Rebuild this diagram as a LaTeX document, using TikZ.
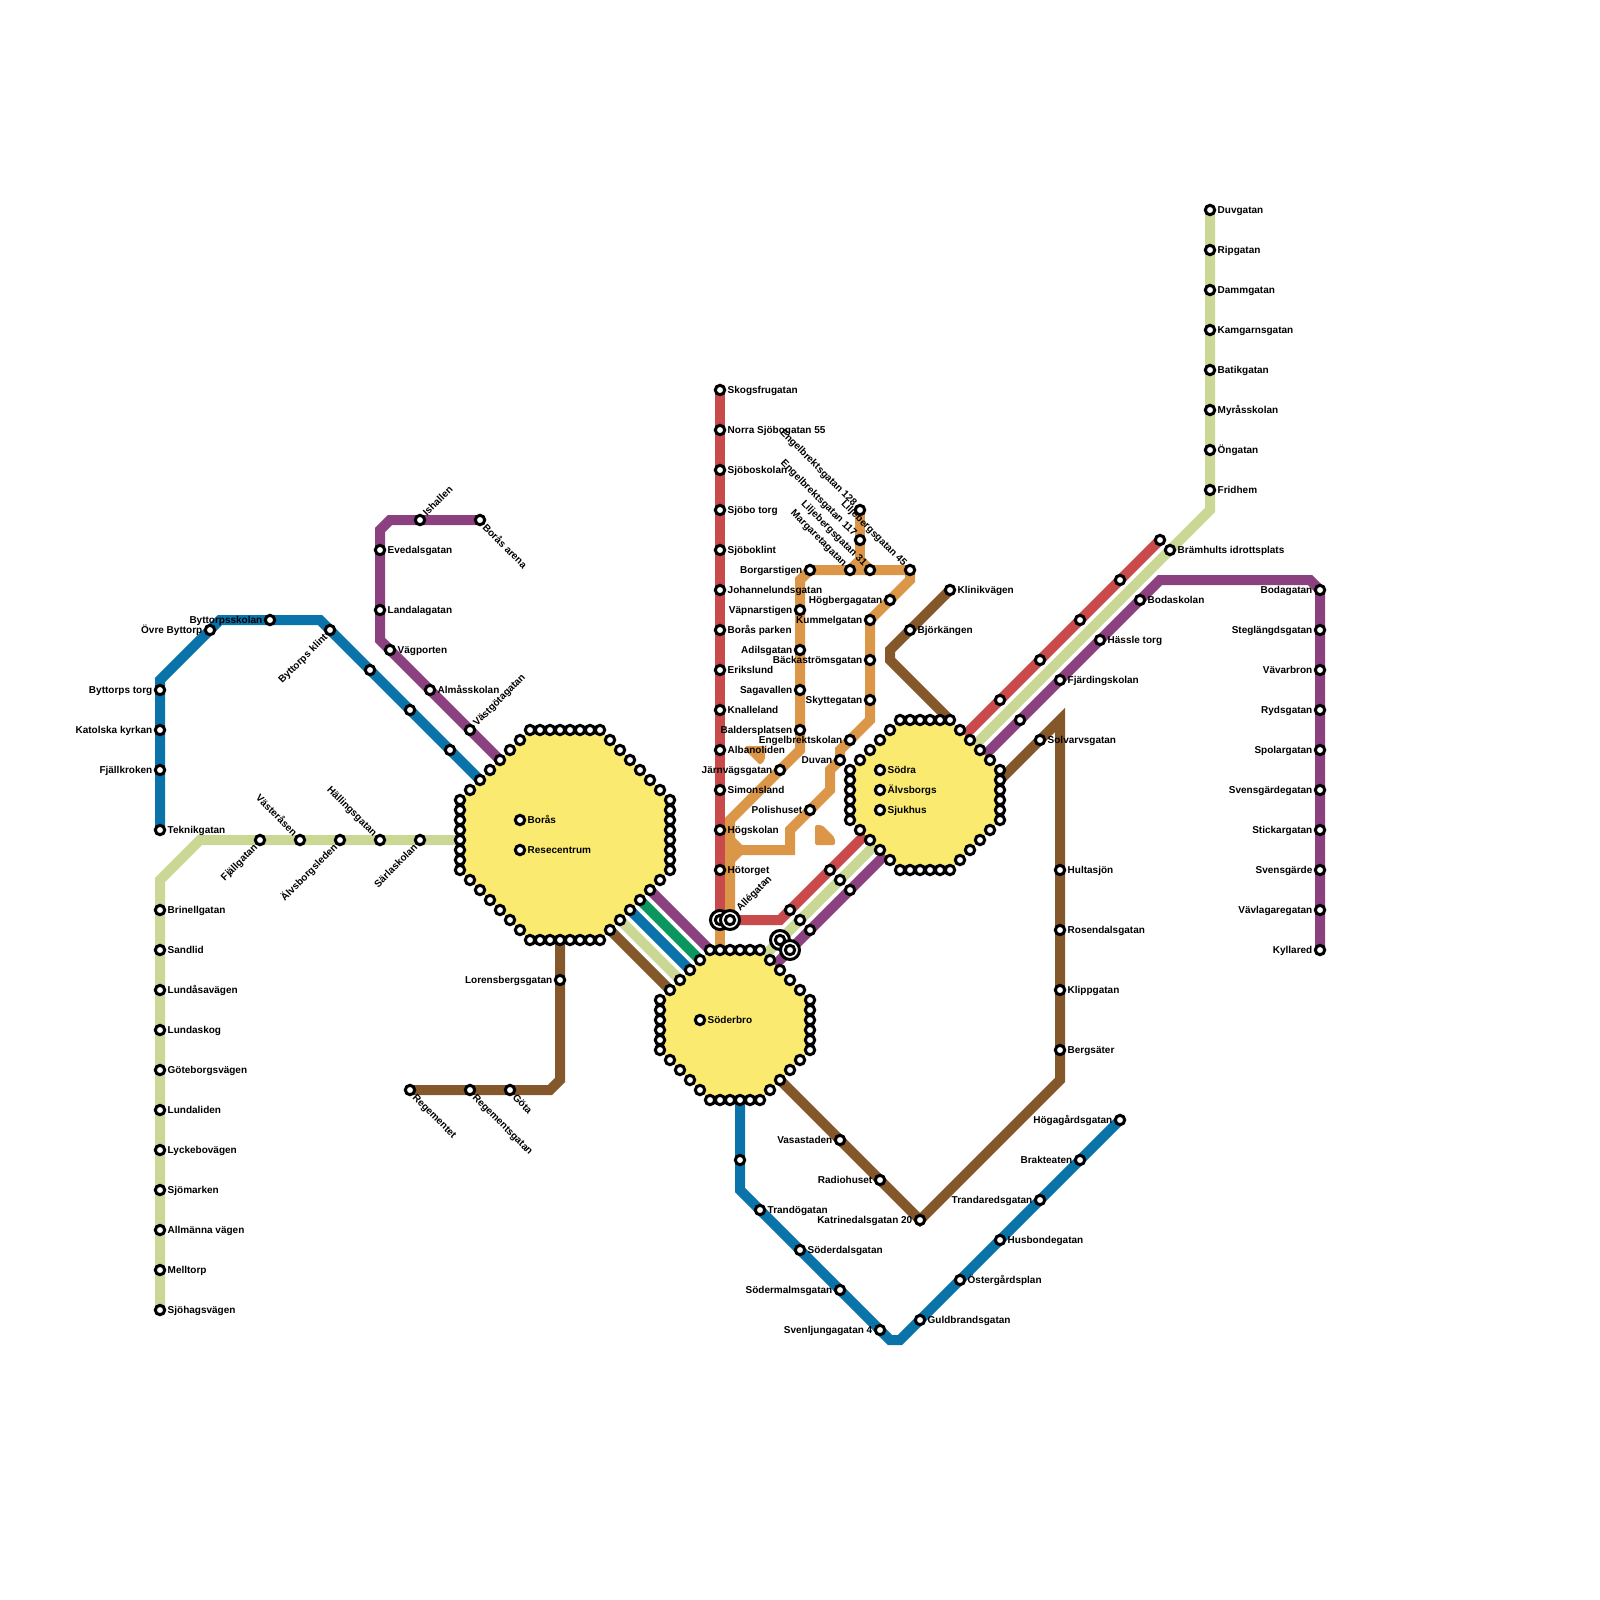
\documentclass[tikz,border=0pt]{standalone}
\usepackage{fontspec}
\setmainfont{Liberation Sans}
\usetikzlibrary{backgrounds}
\definecolor{linered}{RGB}{201,74,74}
\definecolor{lineorange}{RGB}{219,150,72}
\definecolor{linebrown}{RGB}{133,88,44}
\definecolor{linepurple}{RGB}{139,64,128}
\definecolor{lineblue}{RGB}{10,115,169}
\definecolor{linegreen}{RGB}{11,150,96}
\definecolor{linepale}{RGB}{203,215,149}
\definecolor{hubyellow}{RGB}{250,235,112}
\tikzset{
  stn/.style={circle, draw=black, fill=white, line width=3pt, minimum size=9.4pt, inner sep=0pt},
  ringstn/.style={circle, draw=black, fill=white, line width=3pt, minimum size=19pt, inner sep=0pt},
  metro/.style={line width=10pt, line join=miter},
  hub/.style={fill=hubyellow},
  every label/.style={font=\fontsize{10}{10}\selectfont\bfseries, inner sep=0pt, text height=8.5pt, text depth=1.5pt},
  ne/.style={rotate=45, anchor=west},
  sw/.style={rotate=45, anchor=east},
  se/.style={rotate=-45, anchor=west},
  nw/.style={rotate=-45, anchor=east}
}
\begin{document}
\begin{tikzpicture}[x=10pt, y=-10pt, label distance=1.3pt]
    \useasboundingbox (0,0) rectangle (160,160);
    % red line
    \node[stn, label={right:Skogsfrugatan}] (skogsfrugatan) at (72,39) {};
    \node[stn, label={right:Norra Sjöbogatan 55}] (norrasjobo) at (72,43) {};
    \node[stn, label={right:Sjöboskolan}] (sjoboskolan) at (72,47) {};
    \node[stn, label={right:Sjöbo torg}] (sjobotorg) at (72,51) {};
    \node[stn, label={right:Sjöboklint}] (sjoboklint) at (72,55) {};
    \node[stn, label={right:Johannelundsgatan}] (johannelund) at (72,59) {};
    \node[stn, label={right:Borås parken}] (borasparken) at (72,63) {};
    \node[stn, label={right:Erikslund}] (erikslund) at (72,67) {};
    \node[stn, label={right:Knalleland}] (knalleland) at (72,71) {};
    \node[stn, label={right:Albanoliden}] (albanoliden) at (72,75) {};
    \node[stn, label={right:Simonsland}] (simonsland) at (72,79) {};
    \node[stn, label={right:Högskolan}] (hogskolan) at (72,83) {};
    \node[stn, label={right:Hötorget}] (hotorget) at (72,87) {};
    \node[ringstn] (ringred) at (72,92) {};
    \node[stn] (redswitch) at (72,92) {};
    \node[stn] (redmid) at (79,91) {};
    \node[stn] (redhub) at (83,87) {};
    \node[stn] (redne a) at (100,70) {};
    \node[stn] (redne b) at (104,66) {};
    \node[stn] (redne c) at (108,62) {};
    \node[stn] (redne d) at (112,58) {};
    \node[stn] (redne e) at (116,54) {};
    % orange line
    \node[ringstn, label={[ne, label distance=3pt]45:Allégatan}] (ringorange) at (73,92) {};
    \node[stn] (allegatan) at (73,92) {};
    \node[stn, label={left:Järnvägsgatan}] (jarnvagsgatan) at (78,77) {};
    \node[stn, label={left:Baldersplatsen}] (baldersplatsen) at (80,73) {};
    \node[stn, label={left:Sagavallen}] (sagavallen) at (80,69) {};
    \node[stn, label={left:Adilsgatan}] (adilsgatan) at (80,65) {};
    \node[stn, label={left:Väpnarstigen}] (vapnarstigen) at (80,61) {};
    \node[stn, label={left:Borgarstigen}] (borgarstigen) at (81,57) {};
    \node[stn, label={[nw]135:Margaretagatan}] (margaretagatan) at (85,57) {};
    \node[stn, label={[nw]135:Liljebergsgatan 31}] (lilje31) at (87,57) {};
    \node[stn, label={[nw]135:Liljebergsgatan 45}] (lilje45) at (91,57) {};
    \node[stn, label={[nw]135:Engelbrektsgatan 117}] (engel117) at (86,54) {};
    \node[stn, label={[nw]135:Engelbrektsgatan 128}] (engel128) at (86,51) {};
    \node[stn, label={left:Högbergagatan}] (hogbergagatan) at (89,60) {};
    \node[stn, label={left:Kummelgatan}] (kummelgatan) at (87,62) {};
    \node[stn, label={left:Bäckaströmsgatan}] (backastrom) at (87,66) {};
    \node[stn, label={left:Skyttegatan}] (skyttegatan) at (87,70) {};
    \node[stn, label={left:Engelbrektskolan}] (engelskolan) at (85,74) {};
    \node[stn, label={left:Duvan}] (duvan) at (84,76) {};
    \node[stn, label={left:Polishuset}] (polishuset) at (81,81) {};
    % blue line, north-west and south-east
    \node[stn, label={right:Teknikgatan}] (teknikgatan) at (16,83) {};
    \node[stn, label={left:Fjällkroken}] (fjallkroken) at (16,77) {};
    \node[stn, label={left:Katolska kyrkan}] (katolska) at (16,73) {};
    \node[stn, label={left:Byttorps torg}] (byttorpstorg) at (16,69) {};
    \node[stn, label={left:Övre Byttorp}] (ovrebyttorp) at (21,63) {};
    \node[stn, label={left:Byttorpsskolan}] (byttorpsskolan) at (27,62) {};
    \node[stn, label={[sw]225:Byttorps klint}] (byttorpsklint) at (33,63) {};
    \node[stn] (bluenw a) at (37,67) {};
    \node[stn] (bluenw b) at (41,71) {};
    \node[stn] (bluenw c) at (45,75) {};
    \node[stn] (bluese a) at (74,116) {};
    \node[stn, label={right:Trandögatan}] (trandogatan) at (76,121) {};
    \node[stn, label={right:Söderdalsgatan}] (soderdalsgatan) at (80,125) {};
    \node[stn, label={left:Södermalmsgatan}] (sodermalm) at (84,129) {};
    \node[stn, label={left:Svenljungagatan 4}] (svenljunga) at (88,133) {};
    \node[stn, label={right:Guldbrandsgatan}] (guldbrand) at (92,132) {};
    \node[stn, label={right:Östergårdsplan}] (ostergard) at (96,128) {};
    \node[stn, label={right:Husbondegatan}] (husbonde) at (100,124) {};
    \node[stn, label={left:Trandaredsgatan}] (trandared) at (104,120) {};
    \node[stn, label={left:Brakteaten}] (brakteaten) at (108,116) {};
    \node[stn, label={left:Högagårdsgatan}] (hogagard) at (112,112) {};
    % pale line
    \node[stn, label={right:Sjöhagsvägen}] (sjohagsvagen) at (16,131) {};
    \node[stn, label={right:Melltorp}] (melltorp) at (16,127) {};
    \node[stn, label={right:Allmänna vägen}] (allmanna) at (16,123) {};
    \node[stn, label={right:Sjömarken}] (sjomarken) at (16,119) {};
    \node[stn, label={right:Lyckebovägen}] (lyckebo) at (16,115) {};
    \node[stn, label={right:Lundaliden}] (lundaliden) at (16,111) {};
    \node[stn, label={right:Göteborgsvägen}] (goteborgs) at (16,107) {};
    \node[stn, label={right:Lundaskog}] (lundaskog) at (16,103) {};
    \node[stn, label={right:Lundåsavägen}] (lundasa) at (16,99) {};
    \node[stn, label={right:Sandlid}] (sandlid) at (16,95) {};
    \node[stn, label={right:Brinellgatan}] (brinell) at (16,91) {};
    \node[stn, label={[sw]225:Fjällgatan}] (fjallgatan) at (26,84) {};
    \node[stn, label={[nw]135:Västeråsen}] (vasterasen) at (30,84) {};
    \node[stn, label={[sw]225:Älvsborgsleden}] (alvsborgsleden) at (34,84) {};
    \node[stn, label={[nw]135:Hällingsgatan}] (hallingsgatan) at (38,84) {};
    \node[stn, label={[sw]225:Särlaskolan}] (sarlaskolan) at (42,84) {};
    \node[stn] (palemid a) at (84,88) {};
    \node[stn] (palemid b) at (80,92) {};
    \node[ringstn] (ringpale) at (78,94) {};
    \node[stn] (paleswitch) at (78,94) {};
    \node[stn, label={right:Brämhults idrottsplats}] (bramhult) at (117,55) {};
    \node[stn, label={right:Fridhem}] (fridhem) at (121,49) {};
    \node[stn, label={right:Öngatan}] (ongatan) at (121,45) {};
    \node[stn, label={right:Myråsskolan}] (myrasskolan) at (121,41) {};
    \node[stn, label={right:Batikgatan}] (batikgatan) at (121,37) {};
    \node[stn, label={right:Kamgarnsgatan}] (kamgarn) at (121,33) {};
    \node[stn, label={right:Dammgatan}] (dammgatan) at (121,29) {};
    \node[stn, label={right:Ripgatan}] (ripgatan) at (121,25) {};
    \node[stn, label={right:Duvgatan}] (duvgatan) at (121,21) {};
    % purple line
    \node[stn, label={[se]-45:Borås arena}] (borasarena) at (48,52) {};
    \node[stn, label={[ne]45:Ishallen}] (ishallen) at (42,52) {};
    \node[stn, label={right:Evedalsgatan}] (evedalsgatan) at (38,55) {};
    \node[stn, label={right:Landalagatan}] (landalagatan) at (38,61) {};
    \node[stn, label={right:Vägporten}] (vagporten) at (39,65) {};
    \node[stn, label={right:Almåsskolan}] (almasskolan) at (43,69) {};
    \node[stn, label={[ne]45:Västgötagatan}] (vastgotagatan) at (47,73) {};
    \node[stn] (purplemid a) at (85,89) {};
    \node[stn] (purplemid b) at (81,93) {};
    \node[ringstn] (ringpurple) at (79,95) {};
    \node[stn] (purpleswitch) at (79,95) {};
    \node[stn] (purplene a) at (102,72) {};
    \node[stn, label={right:Fjärdingskolan}] (fjardingskolan) at (106,68) {};
    \node[stn, label={right:Hässle torg}] (hassletorg) at (110,64) {};
    \node[stn, label={right:Bodaskolan}] (bodaskolan) at (114,60) {};
    \node[stn, label={left:Bodagatan}] (bodagatan) at (132,59) {};
    \node[stn, label={left:Steglängdsgatan}] (steglangd) at (132,63) {};
    \node[stn, label={left:Vävarbron}] (vavarbron) at (132,67) {};
    \node[stn, label={left:Rydsgatan}] (rydsgatan) at (132,71) {};
    \node[stn, label={left:Spolargatan}] (spolargatan) at (132,75) {};
    \node[stn, label={left:Svensgärdegatan}] (svensgardegatan) at (132,79) {};
    \node[stn, label={left:Stickargatan}] (stickargatan) at (132,83) {};
    \node[stn, label={left:Svensgärde}] (svensgarde) at (132,87) {};
    \node[stn, label={left:Vävlagaregatan}] (vavlagare) at (132,91) {};
    \node[stn, label={left:Kyllared}] (kyllared) at (132,95) {};
    % brown line
    \node[stn, label={right:Klinikvägen}] (klinikvagen) at (95,59) {};
    \node[stn, label={right:Björkängen}] (bjorkangen) at (91,63) {};
    \node[stn, label={right:Solvarvsgatan}] (solvarvsgatan) at (104,74) {};
    \node[stn, label={right:Hultasjön}] (hultasjon) at (106,87) {};
    \node[stn, label={right:Rosendalsgatan}] (rosendalsgatan) at (106,93) {};
    \node[stn, label={right:Klippgatan}] (klippgatan) at (106,99) {};
    \node[stn, label={right:Bergsäter}] (bergsater) at (106,105) {};
    \node[stn, label={left:Katrinedalsgatan 20}] (katrinedal) at (92,122) {};
    \node[stn, label={left:Radiohuset}] (radiohuset) at (88,118) {};
    \node[stn, label={left:Vasastaden}] (vasastaden) at (84,114) {};
    \node[stn, label={left:Lorensbergsgatan}] (lorensberg) at (56,98) {};
    \node[stn, label={[se]-45:Göta}] (gota) at (51,109) {};
    \node[stn, label={[se]-45:Regementsgatan}] (regementsgatan) at (47,109) {};
    \node[stn, label={[se]-45:Regementet}] (regementet) at (41,109) {};
    % hub stops
    \foreach \x in {53,...,60} {
      \node[stn] (borasn\x) at (\x,73) {};
      \node[stn] (borass\x) at (\x,94) {};
    }
    \foreach \y in {80,...,87} {
      \node[stn] (borasw\y) at (46,\y) {};
      \node[stn] (borase\y) at (67,\y) {};
    }
    \foreach \i in {1,...,6} {
      \node[stn] (borasnw\i) at (46+\i,80-\i) {};
      \node[stn] (borasne\i) at (67-\i,80-\i) {};
      \node[stn] (borassw\i) at (46+\i,87+\i) {};
      \node[stn] (borasse\i) at (67-\i,87+\i) {};
    }
    \foreach \x in {71,...,76} {
      \node[stn] (sodern\x) at (\x,95) {};
      \node[stn] (soders\x) at (\x,110) {};
    }
    \foreach \y in {100,...,105} {
      \node[stn] (soderw\y) at (66,\y) {};
      \node[stn] (sodere\y) at (81,\y) {};
    }
    \foreach \i in {1,...,4} {
      \node[stn] (sodernw\i) at (66+\i,100-\i) {};
      \node[stn] (soderne\i) at (81-\i,100-\i) {};
      \node[stn] (sodersw\i) at (66+\i,105+\i) {};
      \node[stn] (soderse\i) at (81-\i,105+\i) {};
    }
    \foreach \x in {90,...,95} {
      \node[stn] (sodran\x) at (\x,72) {};
      \node[stn] (sodras\x) at (\x,87) {};
    }
    \foreach \y in {77,...,82} {
      \node[stn] (sodraw\y) at (85,\y) {};
      \node[stn] (sodrae\y) at (100,\y) {};
    }
    \foreach \i in {1,...,4} {
      \node[stn] (sodranw\i) at (85+\i,77-\i) {};
      \node[stn] (sodrane\i) at (100-\i,77-\i) {};
      \node[stn] (sodrasw\i) at (85+\i,82+\i) {};
      \node[stn] (sodrase\i) at (100-\i,82+\i) {};
    }
    % hub names
    \node[stn, label={right:Borås}] (boras) at (52,82) {};
    \node[stn, label={right:Resecentrum}] (resecentrum) at (52,85) {};
    \node[stn, label={right:Söderbro}] (soderbro) at (70,102) {};
    \node[stn, label={right:Södra}] (sodra) at (88,77) {};
    \node[stn, label={right:Älvsborgs}] (alvsborgs) at (88,79) {};
    \node[stn, label={right:Sjukhus}] (sjukhus) at (88,81) {};
    % bends and free ends
    \coordinate (redbend) at (78,92);
    \coordinate (redsw) at (86.5,83.5);
    \coordinate (redne) at (96.5,73.5);
    \coordinate (orhub) at (72,95);
    \coordinate (ortop) at (73,82);
    \coordinate (orleft) at (80,75);
    \coordinate (orcorner) at (81,57);
    \coordinate (orcornerb) at (80,58);
    \coordinate (orright) at (91,58);
    \coordinate (orlowa) at (87,72);
    \coordinate (orlowb) at (84,75);
    \coordinate (orlowc) at (84,76);
    \coordinate (orlowd) at (83,77);
    \coordinate (orlowe) at (83,79);
    \coordinate (orlowf) at (79,83);
    \coordinate (orlowg) at (79,85);
    \coordinate (orlowh) at (74,85);
    \coordinate (orlowi) at (73,84);
    \coordinate (orlowj) at (73,86);
    \coordinate (orstub) at (86,56);
    \coordinate (blueleft) at (16,68);
    \coordinate (bluetop) at (22,62);
    \coordinate (bluetopb) at (32,62);
    \coordinate (bluedown) at (74,119);
    \coordinate (bluebota) at (89,134);
    \coordinate (bluebotb) at (90,134);
    \coordinate (paleleft) at (16,88);
    \coordinate (paleup) at (20,84);
    \coordinate (palesw) at (87.5,84.5);
    \coordinate (palene) at (97.5,74.5);
    \coordinate (palebend) at (121,51);
    \coordinate (palehub) at (76.5,95.5);
    \coordinate (purpa) at (39,52);
    \coordinate (purpb) at (38,53);
    \coordinate (purpc) at (38,64);
    \coordinate (purpsw) at (88.5,85.5);
    \coordinate (purpne) at (98.5,75.5);
    \coordinate (purphub) at (77.5,96.5);
    \coordinate (purpd) at (116,58);
    \coordinate (purpe) at (131,58);
    \coordinate (brna) at (89,65);
    \coordinate (brnb) at (89,66);
    \coordinate (brnc) at (106,72);
    \coordinate (brnd) at (106,108);
    \coordinate (brne) at (56,108);
    \coordinate (brnf) at (55,109);
    \begin{scope}[on background layer]
      \draw[metro, linegreen] (borasse3.center) -- (sodernw4.center);
      \draw[metro, linepurple] (borasse2.center) -- (sodern71.center);
      \draw[metro, lineblue] (borasse4.center) -- (sodernw3.center);
      \draw[metro, linepale] (borasse5.center) -- (sodernw2.center);
      \draw[metro, linebrown] (borasse6.center) -- (sodernw1.center);
      \draw[metro, linered] (skogsfrugatan.center) -- (redswitch.center);
      \draw[metro, linered] (ringorange.center) -- (redbend) -- (redsw);
      \draw[metro, linered] (redne) -- (redne e.center);
      \draw[metro, lineorange] (redswitch.center) -- (orhub);
      \draw[metro, lineorange] (allegatan.center) -- (ortop) -- (orleft) -- (orcornerb) -- (orcorner) -- (lilje45.center) -- (orright) -- (kummelgatan.center) -- (orlowa) -- (orlowb) -- (orlowc) -- (orlowd) -- (orlowe) -- (orlowf) -- (orlowg) -- (orlowh) -- (orlowj);
      \draw[metro, lineorange] (orlowi) -- (orlowh);
      \draw[metro, lineorange] (margaretagatan.center) -- (orstub) -- (lilje31.center);
      \draw[metro, lineorange] (engel128.center) -- (orstub);
      \draw[metro, lineblue] (teknikgatan.center) -- (blueleft) -- (bluetop) -- (bluetopb) -- (borasnw2.center);
      \draw[metro, lineblue] (soders74.center) -- (bluedown) -- (bluebota) -- (bluebotb) -- (hogagard.center);
      \draw[metro, linepale] (sjohagsvagen.center) -- (paleleft) -- (paleup) -- (borasw84.center);
      \draw[metro, linepale] (palesw) -- (palehub);
      \draw[metro, linepale] (palene) -- (palebend) -- (duvgatan.center);
      \draw[metro, linepurple] (borasarena.center) -- (purpa) -- (purpb) -- (purpc) -- (borasnw4.center);
      \draw[metro, linepurple] (purpsw) -- (purphub);
      \draw[metro, linepurple] (purpne) -- (purpd) -- (purpe) -- (bodagatan.center) -- (kyllared.center);
      \draw[metro, linebrown] (klinikvagen.center) -- (brna) -- (brnb) -- (sodran95.center);
      \draw[metro, linebrown] (soderse3.center) -- (katrinedal.center) -- (brnd) -- (brnc) -- (sodrae78.center);
      \draw[metro, linebrown] (borass56.center) -- (brne) -- (brnf) -- (regementet.center);
      % stray bits of the orange line
      \fill[lineorange, rounded corners=2pt] (74.5,74.6) -- (76.5,74.6) -- (76.5,76) -- (76,76.5) -- (74.5,75) -- cycle;
      \fill[lineorange, rounded corners=2pt] (81.5,82.5) -- (82.2,82.5) -- (83.5,83.8) -- (83.5,84.5) -- (81.5,84.5) -- cycle;
      % hubs
      \fill[hub] (53,73) -- (60,73) -- (67,80) -- (67,87) -- (60,94) -- (53,94) -- (46,87) -- (46,80) -- cycle;
      \fill[hub] (71,95) -- (76,95) -- (81,100) -- (81,105) -- (76,110) -- (71,110) -- (66,105) -- (66,100) -- cycle;
      \fill[hub] (90,72) -- (95,72) -- (100,77) -- (100,82) -- (95,87) -- (90,87) -- (85,82) -- (85,77) -- cycle;
    \end{scope}
  \end{tikzpicture}
\end{document}
